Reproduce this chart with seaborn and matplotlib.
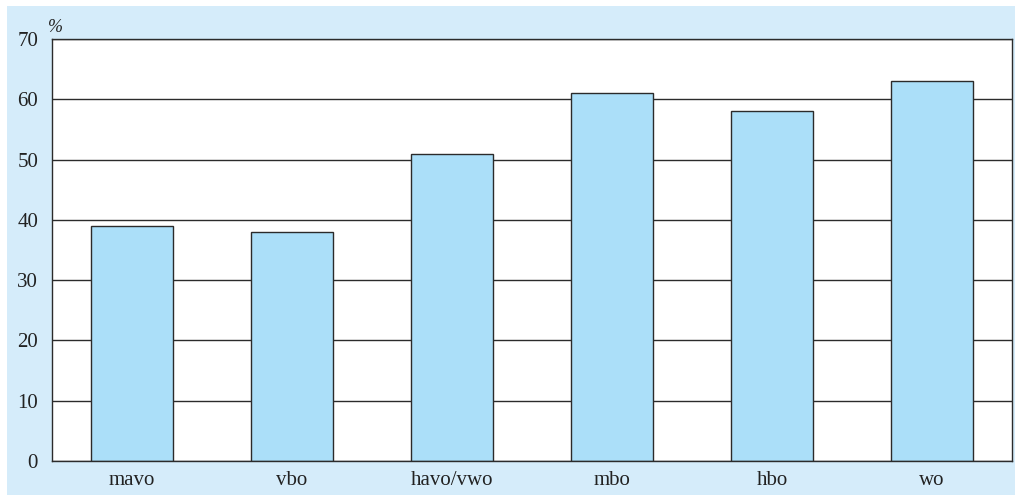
import matplotlib
matplotlib.use("Agg")
import matplotlib.pyplot as plt
import matplotlib.patches as patches
import seaborn as sns
import pandas as pd

# data
levels = ["mavo", "vbo", "havo/vwo", "mbo", "hbo", "wo"]
percent = [39, 38, 51, 61, 58, 63]
yticks = [0, 10, 20, 30, 40, 50, 60, 70]

panel_color = "#d5ecfa"
bar_color = "#abdff9"
line_color = "#2b2b2b"

sns.set_theme(style="white")
plt.rcParams["font.family"] = ["Liberation Serif", "DejaVu Serif"]

df = pd.DataFrame({"level": levels, "percent": percent})

fig = plt.figure(figsize=(10.15, 4.95), dpi=100, facecolor="white")
# light blue panel behind the chart
fig.patches.append(patches.Rectangle((7 / 1015, 0), 1 - 7 / 1015, 1 - 6 / 495,
                                     transform=fig.transFigure, facecolor=panel_color,
                                     edgecolor="none", zorder=-10))

ax = fig.add_axes([52 / 1015, 34 / 495, 960 / 1015, 422 / 495])
ax.set_facecolor("white")

sns.barplot(data=df, x="level", y="percent", color=bar_color, saturation=1,
            edgecolor=line_color, linewidth=1, width=0.51, ax=ax, zorder=2)

ax.set_ylim(0, 70)
ax.set_xlim(-0.5, len(levels) - 0.5)
ax.set_yticks(yticks)
ax.yaxis.grid(True, color=line_color, linewidth=1)
ax.set_axisbelow(True)
ax.set_xlabel("")
ax.set_ylabel("")
ax.tick_params(axis="both", length=0, labelsize=15, colors="#222222")
ax.tick_params(axis="y", pad=10)
ax.tick_params(axis="x", pad=7)

for side in ["left", "right", "top", "bottom"]:
    ax.spines[side].set_visible(True)
    ax.spines[side].set_color(line_color)
    ax.spines[side].set_linewidth(1)

ax.text(0.004, 1.008, "%", transform=ax.transAxes, fontsize=13, style="italic",
        color="#222222", ha="center", va="bottom")

fig.savefig("out.png", dpi=100, facecolor=fig.get_facecolor())
